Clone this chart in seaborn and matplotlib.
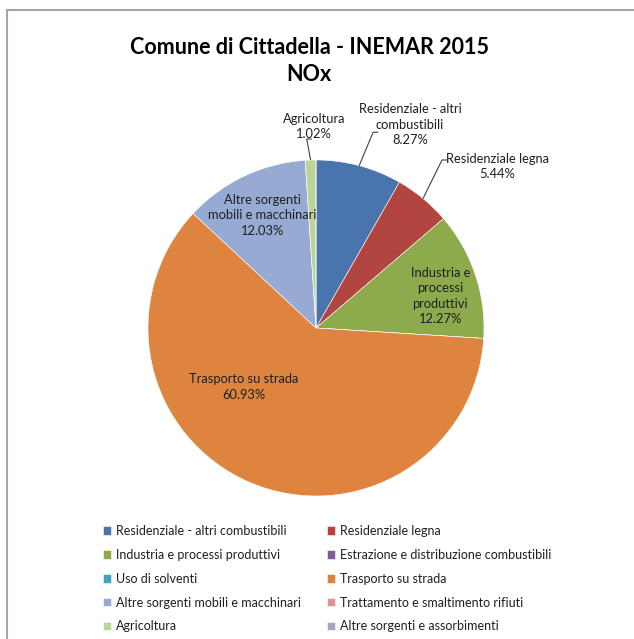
import numpy as np
import matplotlib
matplotlib.use('Agg')
import matplotlib.pyplot as plt
from matplotlib.patches import Rectangle
import seaborn as sns

categories = ['Residenziale - altri combustibili', 'Residenziale legna',
              'Industria e processi produttivi', 'Estrazione e distribuzione combustibili',
              'Uso di solventi', 'Trasporto su strada',
              'Altre sorgenti mobili e macchinari', 'Trattamento e smaltimento rifiuti',
              'Agricoltura', 'Altre sorgenti e assorbimenti']
shares = [8.27, 5.44, 12.27, 0.0, 0.0, 60.93, 12.03, 0.0, 1.02, 0.0]
slice_labels = ['Residenziale - altri\ncombustibili', 'Residenziale legna',
                'Industria e\nprocessi\nproduttivi', '', '', 'Trasporto su strada',
                'Altre sorgenti\nmobili e macchinari', '', 'Agricoltura', '']

colors = ['#4A74AE', '#B2453F', '#8DAA4C', '#7B5E9E', '#3FA3BD', '#DE843F',
          '#97AAD3', '#D99694', '#BCD39A', '#ABA0C6']

sns.set_theme(style='white')
plt.rcParams['font.family'] = ['Lato', 'DejaVu Sans']

fig = plt.figure(figsize=(6.34, 6.39), dpi=100)
fig.patch.set_facecolor('white')

ax = fig.add_axes([64 / 634, 59 / 639, 504 / 634, 504 / 639])
wedges, _ = ax.pie(shares, colors=colors, startangle=90, counterclock=False,
                   radius=1.0, wedgeprops=dict(edgecolor='white', linewidth=0.4))
ax.set_xlim(-1.5, 1.5)
ax.set_ylim(-1.5, 1.5)
ax.set_aspect('equal')
ax.axis('off')

# label placement (in pie radius units); leader lines start from a short tick
label_pos = {0: (0.56, 1.21), 1: (1.08, 0.96), 2: (0.74, 0.19),
             5: (-0.43, -0.35), 6: (-0.32, 0.67), 8: (-0.01, 1.20)}
leader_start = {0: (0.34, 1.165), 1: (0.75, 1.0), 8: (-0.055, 1.125)}

txt_color = '#1f1f1f'
for i, (x, y) in label_pos.items():
    ax.text(x, y, f'{slice_labels[i]}\n{shares[i]:.2f}%', ha='center', va='center',
            fontsize=9.3, color=txt_color, linespacing=1.35)
    if i in leader_start:
        w = wedges[i]
        mid = np.deg2rad((w.theta1 + w.theta2) / 2)
        ex, ey = np.cos(mid), np.sin(mid)
        sx, sy = leader_start[i]
        ax.plot([sx + 0.03, sx, ex], [sy, sy, ey], color='#404040', lw=0.8,
                solid_capstyle='butt')

fig.text(309 / 634, 1 - 61 / 639, 'Comune di Cittadella - INEMAR 2015\nNOx',
         ha='center', va='center', fontsize=15.5, fontweight='bold',
         color='black', linespacing=1.4)

# two-column legend, row-wise order like the original
leg_kw = dict(frameon=False, fontsize=9, handlelength=0.65, handleheight=0.65,
              handletextpad=0.35, labelspacing=0.95, loc='upper left',
              borderaxespad=0, borderpad=0)
for col, x0 in enumerate([103 / 634, 327 / 634]):
    idx = list(range(col, len(categories), 2))
    leg = fig.legend([wedges[k] for k in idx], [categories[k] for k in idx],
                     bbox_to_anchor=(x0, 1 - 525 / 639), **leg_kw)
    for t in leg.get_texts():
        t.set_color(txt_color)

fig.add_artist(Rectangle((7 / 634, -0.1), 2, 1 - 10 / 639 + 0.1,
                         transform=fig.transFigure, fill=False,
                         edgecolor='#A6A6A6', linewidth=1.5))

fig.savefig('out.png', dpi=100)
